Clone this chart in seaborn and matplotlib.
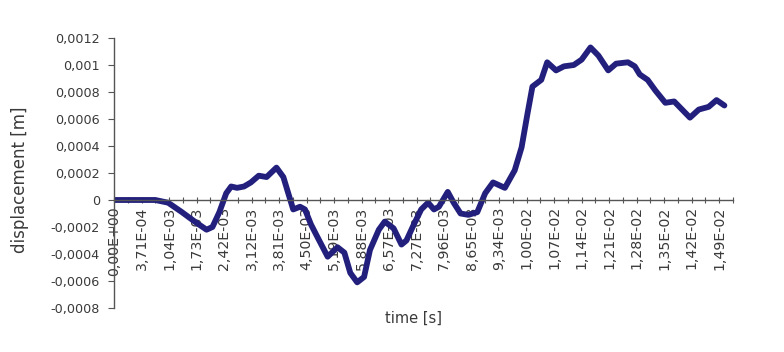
import matplotlib
matplotlib.use("Agg")
import matplotlib.pyplot as plt
import seaborn as sns
import numpy as np
import pandas as pd

# Data (time in seconds, displacement in metres)
time_s = [0.0, 4.5e-4, 1.04e-3, 1.364e-3, 1.711e-3, 2.034e-3, 2.331e-3, 2.48e-3, 2.654e-3,
          2.827e-3, 2.951e-3, 3.10e-3, 3.274e-3, 3.447e-3, 3.646e-3, 3.844e-3, 4.092e-3,
          4.266e-3, 4.39e-3, 4.514e-3, 4.687e-3, 4.811e-3, 4.96e-3, 5.134e-3, 5.382e-3,
          5.63e-3, 5.803e-3, 5.952e-3, 6.126e-3, 6.299e-3, 6.448e-3, 6.671e-3, 6.82e-3,
          7.043e-3, 7.242e-3, 7.366e-3, 7.539e-3, 7.738e-3, 7.911e-3, 8.06e-3, 8.184e-3,
          8.407e-3, 8.556e-3, 8.73e-3, 8.928e-3, 9.151e-3, 9.35e-3, 9.548e-3, 9.846e-3,
          1.0094e-2, 1.0267e-2, 1.0416e-2, 1.054e-2, 1.0763e-2, 1.0912e-2, 1.1135e-2,
          1.1334e-2, 1.1582e-2, 1.178e-2, 1.2003e-2, 1.2202e-2, 1.245e-2, 1.2648e-2,
          1.2946e-2, 1.3119e-2, 1.3243e-2, 1.3442e-2, 1.364e-2, 1.3888e-2, 1.4111e-2,
          1.431e-2, 1.4508e-2, 1.4731e-2, 1.4979e-2, 1.5178e-2, 1.5376e-2]
displacement_m = [0.0, 0.0, 0.0, -0.00002, -0.00009, -0.00016, -0.00022, -0.00020, -0.00009,
                  0.00005, 0.00010, 0.00009, 0.00010, 0.00013, 0.00018, 0.00017, 0.00024,
                  0.00017, 0.00005, -0.00007, -0.00005, -0.00007, -0.00018, -0.00028, -0.00042,
                  -0.00035, -0.00039, -0.00054, -0.00061, -0.00057, -0.00037, -0.00022, -0.00016,
                  -0.00021, -0.00033, -0.00030, -0.00019, -0.00007, -0.00002, -0.00007, -0.00005,
                  0.00006, -0.00002, -0.00010, -0.00011, -0.00009, 0.00005, 0.00013, 0.00009,
                  0.00022, 0.00039, 0.00064, 0.00084, 0.00089, 0.00102, 0.00096,
                  0.00099, 0.00100, 0.00104, 0.00113, 0.00107, 0.00096, 0.00101,
                  0.00102, 0.00099, 0.00093, 0.00089, 0.00081, 0.00072, 0.00073,
                  0.00067, 0.00061, 0.00067, 0.00069, 0.00074, 0.00070]

x_tick_labels = ["0,00E+00", "3,71E-04", "1,04E-03", "1,73E-03", "2,42E-03", "3,12E-03",
                 "3,81E-03", "4,50E-03", "5,19E-03", "5,88E-03", "6,57E-03", "7,27E-03",
                 "7,96E-03", "8,65E-03", "9,34E-03", "1,00E-02", "1,07E-02", "1,14E-02",
                 "1,21E-02", "1,28E-02", "1,35E-02", "1,42E-02", "1,49E-02"]
y_tick_values = [-0.0008, -0.0006, -0.0004, -0.0002, 0.0, 0.0002, 0.0004, 0.0006, 0.0008, 0.001, 0.0012]
y_tick_labels = ["-0,0008", "-0,0006", "-0,0004", "-0,0002", "0", "0,0002", "0,0004",
                 "0,0006", "0,0008", "0,001", "0,0012"]

df = pd.DataFrame({"time": time_s, "displacement": displacement_m})

sns.set_theme(style="white")
plt.rcParams["font.family"] = ["DejaVu Sans"]

fig = plt.figure(figsize=(7.84, 3.52), dpi=100)
ax = fig.add_axes([114 / 784, 1 - 308 / 352, (733 - 114) / 784, (308 - 38) / 352])

sns.lineplot(data=df, x="time", y="displacement", ax=ax, color="#22207c",
             linewidth=4.2, estimator=None, sort=False)

step = 6.93e-4
ax.set_xlim(0, time_s[-1])
ax.set_ylim(-0.0008, 0.0012)

ax.set_xticks(np.arange(len(x_tick_labels)) * step, labels=x_tick_labels)
ax.set_xticks((np.arange(len(x_tick_labels)) + 0.5) * step, minor=True)
ax.set_yticks(y_tick_values, labels=y_tick_labels)

for s in ["top", "right"]:
    ax.spines[s].set_visible(False)
ax.spines["bottom"].set_position(("data", 0))
ax.spines["bottom"].set_color("#555555")
ax.spines["left"].set_color("#555555")
ax.spines["bottom"].set_linewidth(1.0)
ax.spines["left"].set_linewidth(1.0)

ax.tick_params(axis="x", which="both", direction="inout", length=5, width=0.8,
               color="#555555", pad=2, bottom=True, labelrotation=90,
               labelsize=10.2, labelcolor="#3a3a3a")
ax.tick_params(axis="y", direction="out", length=4, width=0.8, color="#555555", pad=6,
               left=True, labelsize=9.2, labelcolor="#3a3a3a")
for lbl in ax.get_xticklabels():
    lbl.set_rotation(90)
    lbl.set_ha("center")
    lbl.set_va("top")

ax.set_xlabel("")
ax.set_ylabel("")
fig.text(414 / 784, 1 - 318 / 352, "time [s]", ha="center", va="center",
         fontsize=10.5, color="#3a3a3a")
fig.text(20 / 784, 1 - 180 / 352, "displacement [m]", ha="center", va="center",
         rotation=90, fontsize=12, color="#3a3a3a")

fig.savefig("out.png", dpi=100, facecolor="white")
